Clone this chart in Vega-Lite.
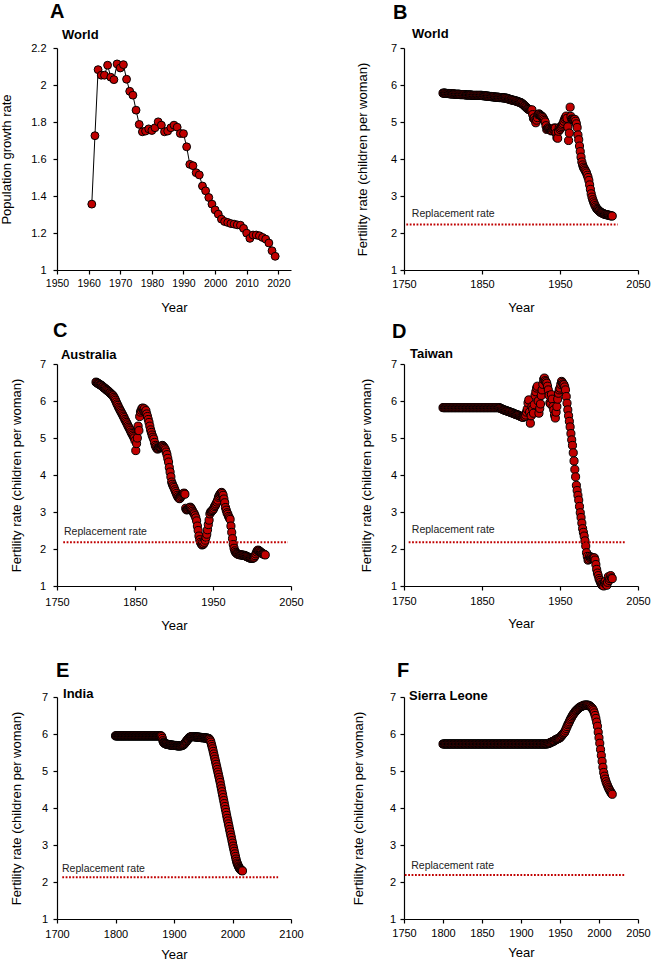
{
"$schema":"https://vega.github.io/schema/vega-lite/v6.json",
"padding":{"left":0,"top":1,"right":0,"bottom":0},
"config":{
"font":"Liberation Sans",
"view":{"stroke":null},
"axis":{"grid":false,"domainColor":"#000","domainWidth":1.2,"tickColor":"#000","tickWidth":1.2,"tickSize":4,"labelFont":"Liberation Sans","labelFontSize":11,"labelColor":"#000","titleFont":"Liberation Sans","titleFontSize":13,"titleFontWeight":"normal","titleColor":"#000","labelOverlap":false,"labelFlush":false},
"axisX":{"labelPadding":4.3},
"axisY":{"labelPadding":7},
"title":{"fontSize":20,"fontWeight":"bold","anchor":"start","frame":"group","color":"#000","font":"Liberation Sans","baseline":"alphabetic"}
},
"datasets":{
"A":[{"year":1961,"rate":1.356},{"year":1962,"rate":1.726},{"year":1963,"rate":2.083},{"year":1964,"rate":2.053},{"year":1965,"rate":2.053},{"year":1966,"rate":2.107},{"year":1967,"rate":2.042},{"year":1968,"rate":2.029},{"year":1969,"rate":2.114},{"year":1970,"rate":2.092},{"year":1971,"rate":2.110},{"year":1972,"rate":2.031},{"year":1973,"rate":1.966},{"year":1974,"rate":1.945},{"year":1975,"rate":1.864},{"year":1976,"rate":1.787},{"year":1977,"rate":1.747},{"year":1978,"rate":1.751},{"year":1979,"rate":1.763},{"year":1980,"rate":1.754},{"year":1981,"rate":1.769},{"year":1982,"rate":1.801},{"year":1983,"rate":1.783},{"year":1984,"rate":1.747},{"year":1985,"rate":1.751},{"year":1986,"rate":1.769},{"year":1987,"rate":1.783},{"year":1988,"rate":1.772},{"year":1989,"rate":1.738},{"year":1990,"rate":1.737},{"year":1991,"rate":1.666},{"year":1992,"rate":1.571},{"year":1993,"rate":1.564},{"year":1994,"rate":1.526},{"year":1995,"rate":1.514},{"year":1996,"rate":1.454},{"year":1997,"rate":1.428},{"year":1998,"rate":1.392},{"year":1999,"rate":1.356},{"year":2000,"rate":1.325},{"year":2001,"rate":1.302},{"year":2002,"rate":1.275},{"year":2003,"rate":1.262},{"year":2004,"rate":1.257},{"year":2005,"rate":1.251},{"year":2006,"rate":1.248},{"year":2007,"rate":1.244},{"year":2008,"rate":1.242},{"year":2009,"rate":1.225},{"year":2010,"rate":1.199},{"year":2011,"rate":1.171},{"year":2012,"rate":1.189},{"year":2013,"rate":1.189},{"year":2014,"rate":1.185},{"year":2015,"rate":1.176},{"year":2016,"rate":1.167},{"year":2017,"rate":1.146},{"year":2018,"rate":1.104},{"year":2019,"rate":1.074}],
"B":[{"year":1800,"rate":5.78},{"year":1801,"rate":5.78},{"year":1802,"rate":5.78},{"year":1803,"rate":5.78},{"year":1804,"rate":5.77},{"year":1805,"rate":5.77},{"year":1806,"rate":5.77},{"year":1807,"rate":5.77},{"year":1808,"rate":5.77},{"year":1809,"rate":5.76},
{"year":1810,"rate":5.76},{"year":1811,"rate":5.76},{"year":1812,"rate":5.76},{"year":1813,"rate":5.76},{"year":1814,"rate":5.76},{"year":1815,"rate":5.75},{"year":1816,"rate":5.75},{"year":1817,"rate":5.75},{"year":1818,"rate":5.75},{"year":1819,"rate":5.75},
{"year":1820,"rate":5.75},{"year":1821,"rate":5.75},{"year":1822,"rate":5.74},{"year":1823,"rate":5.74},{"year":1824,"rate":5.74},{"year":1825,"rate":5.74},{"year":1826,"rate":5.74},{"year":1827,"rate":5.74},{"year":1828,"rate":5.74},{"year":1829,"rate":5.73},
{"year":1830,"rate":5.73},{"year":1831,"rate":5.73},{"year":1832,"rate":5.73},{"year":1833,"rate":5.73},{"year":1834,"rate":5.73},{"year":1835,"rate":5.73},{"year":1836,"rate":5.73},{"year":1837,"rate":5.72},{"year":1838,"rate":5.72},{"year":1839,"rate":5.72},
{"year":1840,"rate":5.72},{"year":1841,"rate":5.72},{"year":1842,"rate":5.72},{"year":1843,"rate":5.72},{"year":1844,"rate":5.72},{"year":1845,"rate":5.72},{"year":1846,"rate":5.72},{"year":1847,"rate":5.72},{"year":1848,"rate":5.72},{"year":1849,"rate":5.72},
{"year":1850,"rate":5.72},{"year":1851,"rate":5.71},{"year":1852,"rate":5.71},{"year":1853,"rate":5.71},{"year":1854,"rate":5.71},{"year":1855,"rate":5.70},{"year":1856,"rate":5.70},{"year":1857,"rate":5.70},{"year":1858,"rate":5.70},{"year":1859,"rate":5.69},
{"year":1860,"rate":5.69},{"year":1861,"rate":5.69},{"year":1862,"rate":5.69},{"year":1863,"rate":5.68},{"year":1864,"rate":5.68},{"year":1865,"rate":5.68},{"year":1866,"rate":5.68},{"year":1867,"rate":5.67},{"year":1868,"rate":5.67},{"year":1869,"rate":5.67},
{"year":1870,"rate":5.67},{"year":1871,"rate":5.67},{"year":1872,"rate":5.66},{"year":1873,"rate":5.66},{"year":1874,"rate":5.66},{"year":1875,"rate":5.66},{"year":1876,"rate":5.66},{"year":1877,"rate":5.65},{"year":1878,"rate":5.65},{"year":1879,"rate":5.65},
{"year":1880,"rate":5.65},{"year":1881,"rate":5.64},{"year":1882,"rate":5.64},{"year":1883,"rate":5.63},{"year":1884,"rate":5.62},{"year":1885,"rate":5.62},{"year":1886,"rate":5.61},{"year":1887,"rate":5.60},{"year":1888,"rate":5.60},{"year":1889,"rate":5.59},
{"year":1890,"rate":5.59},{"year":1891,"rate":5.58},{"year":1892,"rate":5.58},{"year":1893,"rate":5.57},{"year":1894,"rate":5.56},{"year":1895,"rate":5.56},{"year":1896,"rate":5.55},{"year":1897,"rate":5.54},{"year":1898,"rate":5.53},{"year":1899,"rate":5.53},
{"year":1900,"rate":5.52},{"year":1901,"rate":5.50},{"year":1902,"rate":5.49},{"year":1903,"rate":5.47},{"year":1904,"rate":5.45},{"year":1905,"rate":5.43},{"year":1906,"rate":5.41},{"year":1907,"rate":5.39},{"year":1908,"rate":5.37},{"year":1909,"rate":5.35},
{"year":1910,"rate":5.34},{"year":1911,"rate":5.33},{"year":1912,"rate":5.32},{"year":1913,"rate":5.30},{"year":1914,"rate":5.33},{"year":1915,"rate":5.20},{"year":1916,"rate":5.10},{"year":1917,"rate":5.11},{"year":1918,"rate":5.05},{"year":1919,"rate":4.98},
{"year":1920,"rate":5.05},{"year":1921,"rate":5.12},{"year":1922,"rate":5.20},{"year":1923,"rate":5.22},{"year":1924,"rate":5.20},{"year":1925,"rate":5.18},{"year":1926,"rate":5.16},{"year":1927,"rate":5.15},{"year":1928,"rate":5.12},{"year":1929,"rate":5.08},
{"year":1930,"rate":5.04},{"year":1931,"rate":5.00},{"year":1932,"rate":4.90},{"year":1933,"rate":4.80},{"year":1934,"rate":4.82},{"year":1935,"rate":4.84},{"year":1936,"rate":4.82},{"year":1937,"rate":4.80},{"year":1938,"rate":4.78},{"year":1939,"rate":4.76},
{"year":1940,"rate":4.77},{"year":1941,"rate":4.80},{"year":1942,"rate":4.82},{"year":1943,"rate":4.84},{"year":1944,"rate":4.83},{"year":1945,"rate":4.70},{"year":1946,"rate":4.58},{"year":1947,"rate":4.56},{"year":1948,"rate":4.75},{"year":1949,"rate":4.85},
{"year":1950,"rate":4.80},{"year":1951,"rate":4.84},{"year":1952,"rate":4.88},{"year":1953,"rate":4.92},{"year":1954,"rate":4.96},{"year":1955,"rate":5.02},{"year":1956,"rate":5.08},{"year":1957,"rate":5.12},{"year":1958,"rate":5.16},{"year":1959,"rate":5.10},
{"year":1960,"rate":4.87},{"year":1961,"rate":4.50},{"year":1962,"rate":4.70},{"year":1963,"rate":5.40},{"year":1964,"rate":5.15},{"year":1965,"rate":5.08},{"year":1966,"rate":5.07},{"year":1967,"rate":5.07},{"year":1968,"rate":5.06},{"year":1969,"rate":5.07},
{"year":1970,"rate":5.02},{"year":1971,"rate":4.95},{"year":1972,"rate":4.85},{"year":1973,"rate":4.65},{"year":1974,"rate":4.52},{"year":1975,"rate":4.35},{"year":1976,"rate":4.20},{"year":1977,"rate":4.05},{"year":1978,"rate":3.92},{"year":1979,"rate":3.84},
{"year":1980,"rate":3.78},{"year":1981,"rate":3.74},{"year":1982,"rate":3.70},{"year":1983,"rate":3.66},{"year":1984,"rate":3.62},{"year":1985,"rate":3.56},{"year":1986,"rate":3.50},{"year":1987,"rate":3.42},{"year":1988,"rate":3.30},{"year":1989,"rate":3.18},
{"year":1990,"rate":3.06},{"year":1991,"rate":2.97},{"year":1992,"rate":2.90},{"year":1993,"rate":2.84},{"year":1994,"rate":2.79},{"year":1995,"rate":2.74},{"year":1996,"rate":2.70},{"year":1997,"rate":2.66},{"year":1998,"rate":2.64},{"year":1999,"rate":2.62},
{"year":2000,"rate":2.60},{"year":2001,"rate":2.58},{"year":2002,"rate":2.56},{"year":2003,"rate":2.55},{"year":2004,"rate":2.54},{"year":2005,"rate":2.53},{"year":2006,"rate":2.52},{"year":2007,"rate":2.51},{"year":2008,"rate":2.50},{"year":2009,"rate":2.50},
{"year":2010,"rate":2.49},{"year":2011,"rate":2.49},{"year":2012,"rate":2.48},{"year":2013,"rate":2.48},{"year":2014,"rate":2.47},{"year":2015,"rate":2.47},{"year":2016,"rate":2.46},{"year":2017,"rate":2.46}],
"C":[{"year":1800,"rate":6.51},{"year":1801,"rate":6.50},{"year":1802,"rate":6.48},{"year":1803,"rate":6.47},{"year":1804,"rate":6.46},{"year":1805,"rate":6.44},{"year":1806,"rate":6.43},{"year":1807,"rate":6.42},{"year":1808,"rate":6.40},{"year":1809,"rate":6.38},
{"year":1810,"rate":6.36},{"year":1811,"rate":6.35},{"year":1812,"rate":6.33},{"year":1813,"rate":6.31},{"year":1814,"rate":6.29},{"year":1815,"rate":6.28},{"year":1816,"rate":6.26},{"year":1817,"rate":6.24},{"year":1818,"rate":6.22},{"year":1819,"rate":6.20},
{"year":1820,"rate":6.18},{"year":1821,"rate":6.16},{"year":1822,"rate":6.14},{"year":1823,"rate":6.10},{"year":1824,"rate":6.06},{"year":1825,"rate":6.02},{"year":1826,"rate":5.97},{"year":1827,"rate":5.92},{"year":1828,"rate":5.88},{"year":1829,"rate":5.83},
{"year":1830,"rate":5.79},{"year":1831,"rate":5.75},{"year":1832,"rate":5.71},{"year":1833,"rate":5.67},{"year":1834,"rate":5.63},{"year":1835,"rate":5.59},{"year":1836,"rate":5.55},{"year":1837,"rate":5.50},{"year":1838,"rate":5.46},{"year":1839,"rate":5.42},
{"year":1840,"rate":5.38},{"year":1841,"rate":5.33},{"year":1842,"rate":5.29},{"year":1843,"rate":5.25},{"year":1844,"rate":5.21},{"year":1845,"rate":5.16},{"year":1846,"rate":5.12},{"year":1847,"rate":5.08},{"year":1848,"rate":5.04},{"year":1849,"rate":5.00},
{"year":1850,"rate":4.93},{"year":1851,"rate":4.66},{"year":1852,"rate":4.85},{"year":1853,"rate":5.00},{"year":1854,"rate":5.32},{"year":1855,"rate":5.20},{"year":1856,"rate":5.58},{"year":1857,"rate":5.70},{"year":1858,"rate":5.75},{"year":1859,"rate":5.80},
{"year":1860,"rate":5.81},{"year":1861,"rate":5.75},{"year":1862,"rate":5.79},{"year":1863,"rate":5.70},{"year":1864,"rate":5.74},{"year":1865,"rate":5.65},{"year":1866,"rate":5.58},{"year":1867,"rate":5.50},{"year":1868,"rate":5.42},{"year":1869,"rate":5.32},
{"year":1870,"rate":5.22},{"year":1871,"rate":5.15},{"year":1872,"rate":5.08},{"year":1873,"rate":5.02},{"year":1874,"rate":4.97},{"year":1875,"rate":4.88},{"year":1876,"rate":4.80},{"year":1877,"rate":4.76},{"year":1878,"rate":4.72},{"year":1879,"rate":4.70},
{"year":1880,"rate":4.72},{"year":1881,"rate":4.74},{"year":1882,"rate":4.75},{"year":1883,"rate":4.76},{"year":1884,"rate":4.78},{"year":1885,"rate":4.80},{"year":1886,"rate":4.78},{"year":1887,"rate":4.75},{"year":1888,"rate":4.72},{"year":1889,"rate":4.68},
{"year":1890,"rate":4.62},{"year":1891,"rate":4.55},{"year":1892,"rate":4.45},{"year":1893,"rate":4.35},{"year":1894,"rate":4.20},{"year":1895,"rate":4.08},{"year":1896,"rate":3.95},{"year":1897,"rate":3.81},{"year":1898,"rate":3.75},{"year":1899,"rate":3.70},
{"year":1900,"rate":3.66},{"year":1901,"rate":3.60},{"year":1902,"rate":3.55},{"year":1903,"rate":3.50},{"year":1904,"rate":3.45},{"year":1905,"rate":3.41},{"year":1906,"rate":3.38},{"year":1907,"rate":3.36},{"year":1908,"rate":3.38},{"year":1909,"rate":3.42},
{"year":1910,"rate":3.45},{"year":1911,"rate":3.48},{"year":1912,"rate":3.50},{"year":1913,"rate":3.51},{"year":1914,"rate":3.48},{"year":1915,"rate":3.10},{"year":1916,"rate":3.06},{"year":1917,"rate":3.06},{"year":1918,"rate":3.08},{"year":1919,"rate":3.10},
{"year":1920,"rate":3.12},{"year":1921,"rate":3.13},{"year":1922,"rate":3.10},{"year":1923,"rate":3.06},{"year":1924,"rate":3.02},{"year":1925,"rate":2.98},{"year":1926,"rate":2.95},{"year":1927,"rate":2.90},{"year":1928,"rate":2.84},{"year":1929,"rate":2.76},
{"year":1930,"rate":2.62},{"year":1931,"rate":2.50},{"year":1932,"rate":2.35},{"year":1933,"rate":2.25},{"year":1934,"rate":2.18},{"year":1935,"rate":2.14},{"year":1936,"rate":2.11},{"year":1937,"rate":2.12},{"year":1938,"rate":2.14},{"year":1939,"rate":2.18},
{"year":1940,"rate":2.24},{"year":1941,"rate":2.32},{"year":1942,"rate":2.40},{"year":1943,"rate":2.52},{"year":1944,"rate":2.66},{"year":1945,"rate":2.78},{"year":1946,"rate":2.95},{"year":1947,"rate":3.00},{"year":1948,"rate":3.02},{"year":1949,"rate":3.04},
{"year":1950,"rate":3.06},{"year":1951,"rate":3.10},{"year":1952,"rate":3.15},{"year":1953,"rate":3.18},{"year":1954,"rate":3.22},{"year":1955,"rate":3.27},{"year":1956,"rate":3.32},{"year":1957,"rate":3.40},{"year":1958,"rate":3.44},{"year":1959,"rate":3.48},
{"year":1960,"rate":3.51},{"year":1961,"rate":3.53},{"year":1962,"rate":3.50},{"year":1963,"rate":3.45},{"year":1964,"rate":3.35},{"year":1965,"rate":3.25},{"year":1966,"rate":3.12},{"year":1967,"rate":3.05},{"year":1968,"rate":2.98},{"year":1969,"rate":2.94},
{"year":1970,"rate":2.88},{"year":1971,"rate":2.84},{"year":1972,"rate":2.80},{"year":1973,"rate":2.62},{"year":1974,"rate":2.45},{"year":1975,"rate":2.28},{"year":1976,"rate":2.12},{"year":1977,"rate":2.02},{"year":1978,"rate":1.95},{"year":1979,"rate":1.91},
{"year":1980,"rate":1.89},{"year":1981,"rate":1.87},{"year":1982,"rate":1.86},{"year":1983,"rate":1.85},{"year":1984,"rate":1.85},{"year":1985,"rate":1.84},{"year":1986,"rate":1.84},{"year":1987,"rate":1.84},{"year":1988,"rate":1.83},{"year":1989,"rate":1.83},
{"year":1990,"rate":1.83},{"year":1991,"rate":1.82},{"year":1992,"rate":1.81},{"year":1993,"rate":1.80},{"year":1994,"rate":1.79},{"year":1995,"rate":1.78},{"year":1996,"rate":1.77},{"year":1997,"rate":1.76},{"year":1998,"rate":1.75},{"year":1999,"rate":1.75},
{"year":2000,"rate":1.75},{"year":2001,"rate":1.75},{"year":2002,"rate":1.76},{"year":2003,"rate":1.78},{"year":2004,"rate":1.82},{"year":2005,"rate":1.87},{"year":2006,"rate":1.92},{"year":2007,"rate":1.96},{"year":2008,"rate":1.97},{"year":2009,"rate":1.95},
{"year":2010,"rate":1.93},{"year":2011,"rate":1.92},{"year":2012,"rate":1.90},{"year":2013,"rate":1.88},{"year":2014,"rate":1.87},{"year":2015,"rate":1.86},{"year":2016,"rate":1.85},{"year":2017,"rate":1.84}],
"D":[{"year":1800,"rate":5.82},{"year":1801,"rate":5.82},{"year":1802,"rate":5.82},{"year":1803,"rate":5.82},{"year":1804,"rate":5.82},{"year":1805,"rate":5.82},{"year":1806,"rate":5.82},{"year":1807,"rate":5.82},{"year":1808,"rate":5.82},{"year":1809,"rate":5.82},
{"year":1810,"rate":5.82},{"year":1811,"rate":5.82},{"year":1812,"rate":5.82},{"year":1813,"rate":5.82},{"year":1814,"rate":5.82},{"year":1815,"rate":5.82},{"year":1816,"rate":5.82},{"year":1817,"rate":5.82},{"year":1818,"rate":5.82},{"year":1819,"rate":5.82},
{"year":1820,"rate":5.82},{"year":1821,"rate":5.82},{"year":1822,"rate":5.82},{"year":1823,"rate":5.82},{"year":1824,"rate":5.82},{"year":1825,"rate":5.82},{"year":1826,"rate":5.82},{"year":1827,"rate":5.82},{"year":1828,"rate":5.82},{"year":1829,"rate":5.82},
{"year":1830,"rate":5.82},{"year":1831,"rate":5.82},{"year":1832,"rate":5.82},{"year":1833,"rate":5.82},{"year":1834,"rate":5.82},{"year":1835,"rate":5.82},{"year":1836,"rate":5.82},{"year":1837,"rate":5.82},{"year":1838,"rate":5.82},{"year":1839,"rate":5.82},
{"year":1840,"rate":5.82},{"year":1841,"rate":5.82},{"year":1842,"rate":5.82},{"year":1843,"rate":5.82},{"year":1844,"rate":5.82},{"year":1845,"rate":5.82},{"year":1846,"rate":5.82},{"year":1847,"rate":5.82},{"year":1848,"rate":5.82},{"year":1849,"rate":5.82},
{"year":1850,"rate":5.82},{"year":1851,"rate":5.82},{"year":1852,"rate":5.82},{"year":1853,"rate":5.82},{"year":1854,"rate":5.82},{"year":1855,"rate":5.82},{"year":1856,"rate":5.82},{"year":1857,"rate":5.82},{"year":1858,"rate":5.82},{"year":1859,"rate":5.82},
{"year":1860,"rate":5.82},{"year":1861,"rate":5.82},{"year":1862,"rate":5.82},{"year":1863,"rate":5.82},{"year":1864,"rate":5.82},{"year":1865,"rate":5.82},{"year":1866,"rate":5.82},{"year":1867,"rate":5.82},{"year":1868,"rate":5.82},{"year":1869,"rate":5.82},
{"year":1870,"rate":5.82},{"year":1871,"rate":5.82},{"year":1872,"rate":5.82},{"year":1873,"rate":5.81},{"year":1874,"rate":5.80},{"year":1875,"rate":5.79},{"year":1876,"rate":5.78},{"year":1877,"rate":5.77},{"year":1878,"rate":5.76},{"year":1879,"rate":5.75},
{"year":1880,"rate":5.75},{"year":1881,"rate":5.74},{"year":1882,"rate":5.73},{"year":1883,"rate":5.72},{"year":1884,"rate":5.72},{"year":1885,"rate":5.71},{"year":1886,"rate":5.70},{"year":1887,"rate":5.69},{"year":1888,"rate":5.68},{"year":1889,"rate":5.68},
{"year":1890,"rate":5.67},{"year":1891,"rate":5.66},{"year":1892,"rate":5.65},{"year":1893,"rate":5.64},{"year":1894,"rate":5.63},{"year":1895,"rate":5.63},{"year":1896,"rate":5.62},{"year":1897,"rate":5.61},{"year":1898,"rate":5.60},{"year":1899,"rate":5.59},
{"year":1900,"rate":5.58},{"year":1901,"rate":5.57},{"year":1902,"rate":5.56},{"year":1903,"rate":5.56},{"year":1904,"rate":5.60},{"year":1905,"rate":5.58},{"year":1906,"rate":5.62},{"year":1907,"rate":5.70},{"year":1908,"rate":5.78},{"year":1909,"rate":5.95},
{"year":1910,"rate":6.03},{"year":1911,"rate":5.70},{"year":1912,"rate":5.40},{"year":1913,"rate":5.60},{"year":1914,"rate":5.85},{"year":1915,"rate":5.78},{"year":1916,"rate":5.67},{"year":1917,"rate":5.90},{"year":1918,"rate":6.15},{"year":1919,"rate":6.25},
{"year":1920,"rate":6.35},{"year":1921,"rate":6.40},{"year":1922,"rate":6.00},{"year":1923,"rate":5.67},{"year":1924,"rate":5.80},{"year":1925,"rate":5.92},{"year":1926,"rate":6.15},{"year":1927,"rate":6.30},{"year":1928,"rate":6.45},{"year":1929,"rate":6.58},
{"year":1930,"rate":6.62},{"year":1931,"rate":6.55},{"year":1932,"rate":6.52},{"year":1933,"rate":6.48},{"year":1934,"rate":6.40},{"year":1935,"rate":6.30},{"year":1936,"rate":6.15},{"year":1937,"rate":5.95},{"year":1938,"rate":5.92},{"year":1939,"rate":6.17},
{"year":1940,"rate":6.05},{"year":1941,"rate":5.85},{"year":1942,"rate":5.76},{"year":1943,"rate":5.62},{"year":1944,"rate":5.54},{"year":1945,"rate":5.70},{"year":1946,"rate":5.85},{"year":1947,"rate":6.05},{"year":1948,"rate":6.21},{"year":1949,"rate":6.30},
{"year":1950,"rate":6.35},{"year":1951,"rate":6.45},{"year":1952,"rate":6.53},{"year":1953,"rate":6.50},{"year":1954,"rate":6.46},{"year":1955,"rate":6.44},{"year":1956,"rate":6.38},{"year":1957,"rate":6.30},{"year":1958,"rate":6.12},{"year":1959,"rate":5.94},
{"year":1960,"rate":5.76},{"year":1961,"rate":5.60},{"year":1962,"rate":5.45},{"year":1963,"rate":5.30},{"year":1964,"rate":5.12},{"year":1965,"rate":4.95},{"year":1966,"rate":4.80},{"year":1967,"rate":4.60},{"year":1968,"rate":4.38},{"year":1969,"rate":4.15},
{"year":1970,"rate":3.95},{"year":1971,"rate":3.72},{"year":1972,"rate":3.58},{"year":1973,"rate":3.45},{"year":1974,"rate":3.32},{"year":1975,"rate":3.15},{"year":1976,"rate":2.98},{"year":1977,"rate":2.85},{"year":1978,"rate":2.70},{"year":1979,"rate":2.55},
{"year":1980,"rate":2.45},{"year":1981,"rate":2.35},{"year":1982,"rate":2.22},{"year":1983,"rate":2.08},{"year":1984,"rate":1.90},{"year":1985,"rate":1.80},{"year":1986,"rate":1.70},{"year":1987,"rate":1.72},{"year":1988,"rate":1.80},{"year":1989,"rate":1.75},
{"year":1990,"rate":1.78},{"year":1991,"rate":1.74},{"year":1992,"rate":1.76},{"year":1993,"rate":1.76},{"year":1994,"rate":1.76},{"year":1995,"rate":1.70},{"year":1996,"rate":1.58},{"year":1997,"rate":1.45},{"year":1998,"rate":1.35},{"year":1999,"rate":1.28},
{"year":2000,"rate":1.20},{"year":2001,"rate":1.15},{"year":2002,"rate":1.10},{"year":2003,"rate":1.05},{"year":2004,"rate":1.02},{"year":2005,"rate":1.05},{"year":2006,"rate":1.00},{"year":2007,"rate":1.08},{"year":2008,"rate":1.12},{"year":2009,"rate":1.05},
{"year":2010,"rate":1.02},{"year":2011,"rate":1.10},{"year":2012,"rate":1.25},{"year":2013,"rate":1.15},{"year":2014,"rate":1.20},{"year":2015,"rate":1.28},{"year":2016,"rate":1.22},{"year":2017,"rate":1.20}],
"E":[{"year":1800,"rate":5.95},{"year":1801,"rate":5.95},{"year":1802,"rate":5.95},{"year":1803,"rate":5.95},{"year":1804,"rate":5.95},{"year":1805,"rate":5.95},{"year":1806,"rate":5.95},{"year":1807,"rate":5.95},{"year":1808,"rate":5.95},{"year":1809,"rate":5.95},
{"year":1810,"rate":5.95},{"year":1811,"rate":5.95},{"year":1812,"rate":5.95},{"year":1813,"rate":5.95},{"year":1814,"rate":5.95},{"year":1815,"rate":5.95},{"year":1816,"rate":5.95},{"year":1817,"rate":5.95},{"year":1818,"rate":5.95},{"year":1819,"rate":5.95},
{"year":1820,"rate":5.95},{"year":1821,"rate":5.95},{"year":1822,"rate":5.95},{"year":1823,"rate":5.95},{"year":1824,"rate":5.95},{"year":1825,"rate":5.95},{"year":1826,"rate":5.95},{"year":1827,"rate":5.95},{"year":1828,"rate":5.95},{"year":1829,"rate":5.95},
{"year":1830,"rate":5.95},{"year":1831,"rate":5.95},{"year":1832,"rate":5.95},{"year":1833,"rate":5.95},{"year":1834,"rate":5.95},{"year":1835,"rate":5.95},{"year":1836,"rate":5.95},{"year":1837,"rate":5.95},{"year":1838,"rate":5.95},{"year":1839,"rate":5.95},
{"year":1840,"rate":5.95},{"year":1841,"rate":5.95},{"year":1842,"rate":5.95},{"year":1843,"rate":5.95},{"year":1844,"rate":5.95},{"year":1845,"rate":5.95},{"year":1846,"rate":5.95},{"year":1847,"rate":5.95},{"year":1848,"rate":5.95},{"year":1849,"rate":5.95},
{"year":1850,"rate":5.95},{"year":1851,"rate":5.95},{"year":1852,"rate":5.95},{"year":1853,"rate":5.95},{"year":1854,"rate":5.95},{"year":1855,"rate":5.95},{"year":1856,"rate":5.95},{"year":1857,"rate":5.95},{"year":1858,"rate":5.95},{"year":1859,"rate":5.95},
{"year":1860,"rate":5.95},{"year":1861,"rate":5.95},{"year":1862,"rate":5.95},{"year":1863,"rate":5.95},{"year":1864,"rate":5.95},{"year":1865,"rate":5.95},{"year":1866,"rate":5.95},{"year":1867,"rate":5.95},{"year":1868,"rate":5.95},{"year":1869,"rate":5.95},
{"year":1870,"rate":5.95},{"year":1871,"rate":5.95},{"year":1872,"rate":5.95},{"year":1873,"rate":5.95},{"year":1874,"rate":5.95},{"year":1875,"rate":5.95},{"year":1876,"rate":5.95},{"year":1877,"rate":5.95},{"year":1878,"rate":5.95},{"year":1879,"rate":5.93},
{"year":1880,"rate":5.88},{"year":1881,"rate":5.82},{"year":1882,"rate":5.78},{"year":1883,"rate":5.76},{"year":1884,"rate":5.75},{"year":1885,"rate":5.74},{"year":1886,"rate":5.73},{"year":1887,"rate":5.73},{"year":1888,"rate":5.72},{"year":1889,"rate":5.72},
{"year":1890,"rate":5.72},{"year":1891,"rate":5.71},{"year":1892,"rate":5.71},{"year":1893,"rate":5.71},{"year":1894,"rate":5.70},{"year":1895,"rate":5.70},{"year":1896,"rate":5.70},{"year":1897,"rate":5.70},{"year":1898,"rate":5.70},{"year":1899,"rate":5.69},
{"year":1900,"rate":5.69},{"year":1901,"rate":5.69},{"year":1902,"rate":5.69},{"year":1903,"rate":5.69},{"year":1904,"rate":5.69},{"year":1905,"rate":5.68},{"year":1906,"rate":5.68},{"year":1907,"rate":5.68},{"year":1908,"rate":5.68},{"year":1909,"rate":5.68},
{"year":1910,"rate":5.68},{"year":1911,"rate":5.68},{"year":1912,"rate":5.68},{"year":1913,"rate":5.69},{"year":1914,"rate":5.69},{"year":1915,"rate":5.70},{"year":1916,"rate":5.71},{"year":1917,"rate":5.72},{"year":1918,"rate":5.74},{"year":1919,"rate":5.76},
{"year":1920,"rate":5.78},{"year":1921,"rate":5.80},{"year":1922,"rate":5.82},{"year":1923,"rate":5.84},{"year":1924,"rate":5.86},{"year":1925,"rate":5.88},{"year":1926,"rate":5.90},{"year":1927,"rate":5.91},{"year":1928,"rate":5.92},{"year":1929,"rate":5.92},
{"year":1930,"rate":5.93},{"year":1931,"rate":5.93},{"year":1932,"rate":5.93},{"year":1933,"rate":5.93},{"year":1934,"rate":5.93},{"year":1935,"rate":5.93},{"year":1936,"rate":5.92},{"year":1937,"rate":5.92},{"year":1938,"rate":5.92},{"year":1939,"rate":5.92},
{"year":1940,"rate":5.92},{"year":1941,"rate":5.92},{"year":1942,"rate":5.91},{"year":1943,"rate":5.91},{"year":1944,"rate":5.91},{"year":1945,"rate":5.91},{"year":1946,"rate":5.91},{"year":1947,"rate":5.90},{"year":1948,"rate":5.90},{"year":1949,"rate":5.90},
{"year":1950,"rate":5.90},{"year":1951,"rate":5.90},{"year":1952,"rate":5.90},{"year":1953,"rate":5.89},{"year":1954,"rate":5.89},{"year":1955,"rate":5.89},{"year":1956,"rate":5.89},{"year":1957,"rate":5.89},{"year":1958,"rate":5.88},{"year":1959,"rate":5.88},
{"year":1960,"rate":5.87},{"year":1961,"rate":5.85},{"year":1962,"rate":5.82},{"year":1963,"rate":5.78},{"year":1964,"rate":5.72},{"year":1965,"rate":5.66},{"year":1966,"rate":5.60},{"year":1967,"rate":5.53},{"year":1968,"rate":5.46},{"year":1969,"rate":5.39},
{"year":1970,"rate":5.32},{"year":1971,"rate":5.25},{"year":1972,"rate":5.18},{"year":1973,"rate":5.11},{"year":1974,"rate":5.04},{"year":1975,"rate":4.97},{"year":1976,"rate":4.90},{"year":1977,"rate":4.83},{"year":1978,"rate":4.76},{"year":1979,"rate":4.69},
{"year":1980,"rate":4.60},{"year":1981,"rate":4.52},{"year":1982,"rate":4.44},{"year":1983,"rate":4.36},{"year":1984,"rate":4.28},{"year":1985,"rate":4.20},{"year":1986,"rate":4.12},{"year":1987,"rate":4.04},{"year":1988,"rate":3.96},{"year":1989,"rate":3.88},
{"year":1990,"rate":3.80},{"year":1991,"rate":3.72},{"year":1992,"rate":3.65},{"year":1993,"rate":3.57},{"year":1994,"rate":3.50},{"year":1995,"rate":3.42},{"year":1996,"rate":3.35},{"year":1997,"rate":3.27},{"year":1998,"rate":3.20},{"year":1999,"rate":3.12},
{"year":2000,"rate":3.05},{"year":2001,"rate":2.97},{"year":2002,"rate":2.90},{"year":2003,"rate":2.83},{"year":2004,"rate":2.76},{"year":2005,"rate":2.69},{"year":2006,"rate":2.62},{"year":2007,"rate":2.56},{"year":2008,"rate":2.51},{"year":2009,"rate":2.47},
{"year":2010,"rate":2.43},{"year":2011,"rate":2.40},{"year":2012,"rate":2.37},{"year":2013,"rate":2.35},{"year":2014,"rate":2.33},{"year":2015,"rate":2.32},{"year":2016,"rate":2.31},{"year":2017,"rate":2.30}],
"F":[{"year":1800,"rate":5.73},{"year":1801,"rate":5.73},{"year":1802,"rate":5.73},{"year":1803,"rate":5.73},{"year":1804,"rate":5.73},{"year":1805,"rate":5.73},{"year":1806,"rate":5.73},{"year":1807,"rate":5.73},{"year":1808,"rate":5.73},{"year":1809,"rate":5.73},
{"year":1810,"rate":5.73},{"year":1811,"rate":5.73},{"year":1812,"rate":5.73},{"year":1813,"rate":5.73},{"year":1814,"rate":5.73},{"year":1815,"rate":5.73},{"year":1816,"rate":5.73},{"year":1817,"rate":5.73},{"year":1818,"rate":5.73},{"year":1819,"rate":5.73},
{"year":1820,"rate":5.73},{"year":1821,"rate":5.73},{"year":1822,"rate":5.73},{"year":1823,"rate":5.73},{"year":1824,"rate":5.73},{"year":1825,"rate":5.73},{"year":1826,"rate":5.73},{"year":1827,"rate":5.73},{"year":1828,"rate":5.73},{"year":1829,"rate":5.73},
{"year":1830,"rate":5.73},{"year":1831,"rate":5.73},{"year":1832,"rate":5.73},{"year":1833,"rate":5.73},{"year":1834,"rate":5.73},{"year":1835,"rate":5.73},{"year":1836,"rate":5.73},{"year":1837,"rate":5.73},{"year":1838,"rate":5.73},{"year":1839,"rate":5.73},
{"year":1840,"rate":5.73},{"year":1841,"rate":5.73},{"year":1842,"rate":5.73},{"year":1843,"rate":5.73},{"year":1844,"rate":5.73},{"year":1845,"rate":5.73},{"year":1846,"rate":5.73},{"year":1847,"rate":5.73},{"year":1848,"rate":5.73},{"year":1849,"rate":5.73},
{"year":1850,"rate":5.73},{"year":1851,"rate":5.73},{"year":1852,"rate":5.73},{"year":1853,"rate":5.73},{"year":1854,"rate":5.73},{"year":1855,"rate":5.73},{"year":1856,"rate":5.73},{"year":1857,"rate":5.73},{"year":1858,"rate":5.73},{"year":1859,"rate":5.73},
{"year":1860,"rate":5.73},{"year":1861,"rate":5.73},{"year":1862,"rate":5.73},{"year":1863,"rate":5.73},{"year":1864,"rate":5.73},{"year":1865,"rate":5.73},{"year":1866,"rate":5.73},{"year":1867,"rate":5.73},{"year":1868,"rate":5.73},{"year":1869,"rate":5.73},
{"year":1870,"rate":5.73},{"year":1871,"rate":5.73},{"year":1872,"rate":5.73},{"year":1873,"rate":5.73},{"year":1874,"rate":5.73},{"year":1875,"rate":5.73},{"year":1876,"rate":5.73},{"year":1877,"rate":5.73},{"year":1878,"rate":5.73},{"year":1879,"rate":5.73},
{"year":1880,"rate":5.73},{"year":1881,"rate":5.73},{"year":1882,"rate":5.73},{"year":1883,"rate":5.73},{"year":1884,"rate":5.73},{"year":1885,"rate":5.73},{"year":1886,"rate":5.73},{"year":1887,"rate":5.73},{"year":1888,"rate":5.73},{"year":1889,"rate":5.73},
{"year":1890,"rate":5.73},{"year":1891,"rate":5.73},{"year":1892,"rate":5.73},{"year":1893,"rate":5.73},{"year":1894,"rate":5.73},{"year":1895,"rate":5.73},{"year":1896,"rate":5.73},{"year":1897,"rate":5.73},{"year":1898,"rate":5.73},{"year":1899,"rate":5.73},
{"year":1900,"rate":5.73},{"year":1901,"rate":5.73},{"year":1902,"rate":5.73},{"year":1903,"rate":5.73},{"year":1904,"rate":5.73},{"year":1905,"rate":5.73},{"year":1906,"rate":5.73},{"year":1907,"rate":5.73},{"year":1908,"rate":5.73},{"year":1909,"rate":5.73},
{"year":1910,"rate":5.73},{"year":1911,"rate":5.73},{"year":1912,"rate":5.73},{"year":1913,"rate":5.73},{"year":1914,"rate":5.73},{"year":1915,"rate":5.73},{"year":1916,"rate":5.73},{"year":1917,"rate":5.73},{"year":1918,"rate":5.73},{"year":1919,"rate":5.73},
{"year":1920,"rate":5.73},{"year":1921,"rate":5.73},{"year":1922,"rate":5.73},{"year":1923,"rate":5.73},{"year":1924,"rate":5.73},{"year":1925,"rate":5.73},{"year":1926,"rate":5.73},{"year":1927,"rate":5.73},{"year":1928,"rate":5.73},{"year":1929,"rate":5.73},
{"year":1930,"rate":5.73},{"year":1931,"rate":5.73},{"year":1932,"rate":5.73},{"year":1933,"rate":5.73},{"year":1934,"rate":5.74},{"year":1935,"rate":5.74},{"year":1936,"rate":5.75},{"year":1937,"rate":5.76},{"year":1938,"rate":5.77},{"year":1939,"rate":5.78},
{"year":1940,"rate":5.79},{"year":1941,"rate":5.80},{"year":1942,"rate":5.81},{"year":1943,"rate":5.82},{"year":1944,"rate":5.84},{"year":1945,"rate":5.85},{"year":1946,"rate":5.86},{"year":1947,"rate":5.87},{"year":1948,"rate":5.88},{"year":1949,"rate":5.89},
{"year":1950,"rate":5.90},{"year":1951,"rate":5.93},{"year":1952,"rate":5.95},{"year":1953,"rate":5.98},{"year":1954,"rate":6.00},{"year":1955,"rate":6.03},{"year":1956,"rate":6.05},{"year":1957,"rate":6.10},{"year":1958,"rate":6.15},{"year":1959,"rate":6.20},
{"year":1960,"rate":6.25},{"year":1961,"rate":6.29},{"year":1962,"rate":6.33},{"year":1963,"rate":6.38},{"year":1964,"rate":6.42},{"year":1965,"rate":6.46},{"year":1966,"rate":6.50},{"year":1967,"rate":6.53},{"year":1968,"rate":6.56},{"year":1969,"rate":6.59},
{"year":1970,"rate":6.62},{"year":1971,"rate":6.64},{"year":1972,"rate":6.66},{"year":1973,"rate":6.68},{"year":1974,"rate":6.70},{"year":1975,"rate":6.72},{"year":1976,"rate":6.73},{"year":1977,"rate":6.74},{"year":1978,"rate":6.75},{"year":1979,"rate":6.76},
{"year":1980,"rate":6.77},{"year":1981,"rate":6.78},{"year":1982,"rate":6.78},{"year":1983,"rate":6.78},{"year":1984,"rate":6.78},{"year":1985,"rate":6.78},{"year":1986,"rate":6.78},{"year":1987,"rate":6.77},{"year":1988,"rate":6.76},{"year":1989,"rate":6.74},
{"year":1990,"rate":6.72},{"year":1991,"rate":6.70},{"year":1992,"rate":6.67},{"year":1993,"rate":6.63},{"year":1994,"rate":6.57},{"year":1995,"rate":6.50},{"year":1996,"rate":6.42},{"year":1997,"rate":6.32},{"year":1998,"rate":6.21},{"year":1999,"rate":6.05},
{"year":2000,"rate":5.90},{"year":2001,"rate":5.75},{"year":2002,"rate":5.58},{"year":2003,"rate":5.42},{"year":2004,"rate":5.26},{"year":2005,"rate":5.10},{"year":2006,"rate":4.96},{"year":2007,"rate":4.86},{"year":2008,"rate":4.78},{"year":2009,"rate":4.71},
{"year":2010,"rate":4.65},{"year":2011,"rate":4.60},{"year":2012,"rate":4.55},{"year":2013,"rate":4.51},{"year":2014,"rate":4.47},{"year":2015,"rate":4.43},{"year":2016,"rate":4.40},{"year":2017,"rate":4.37}]
},
"columns":2,
"spacing":{"row":6,"column":48},
"align":"each",
"bounds":"full",
"concat":[
{"width":234,"height":222,"title":{"text":"A","dx":-7,"offset":7},
"layer":[
{"data":{"name":"A"},"mark":{"type":"line","color":"#000","strokeWidth":1},
"encoding":{"x":{"field":"year","type":"quantitative","scale":{"domain":[1950,2024]},"axis":{"title":"Year","values":[1950,1960,1970,1980,1990,2000,2010,2020],"tickCount":30,"format":"d","labelFontSize":10.5,"titlePadding":12.6,"labelOverlap":false,"labelFlush":false}},
"y":{"field":"rate","type":"quantitative","scale":{"domain":[1,2.2]},"axis":{"title":"Population growth rate","values":[1,1.2,1.4,1.6,1.8,2,2.2],"tickCount":30,"format":"~g","titlePadding":17.7,"labelOverlap":false,"labelFlush":false}}}},
{"data":{"name":"A"},"mark":{"type":"circle","size":62,"color":"#c00000","stroke":"#000","strokeWidth":1,"opacity":1},
"encoding":{"x":{"field":"year","type":"quantitative","scale":{"domain":[1950,2024]}},"y":{"field":"rate","type":"quantitative","scale":{"domain":[1,2.2]}}}},
{"data":{"values":[{"label":"World"}]},"mark":{"type":"text","fontSize":13,"fontWeight":"bold","align":"left","baseline":"alphabetic","color":"#000"},
"encoding":{"text":{"field":"label"},"x":{"datum":1951.6,"type":"quantitative","scale":{"domain":[1950,2024]}},"y":{"datum":2.249,"type":"quantitative","scale":{"domain":[1,2.2]}}}}
]},
{"width":234,"height":222,"title":{"text":"B","dx":-11,"offset":5},
"layer":[
{"data":{"name":"B"},"mark":{"type":"circle","size":66,"color":"#c00000","stroke":"#000","strokeWidth":1,"opacity":1},
"encoding":{"x":{"field":"year","type":"quantitative","scale":{"domain":[1750,2050]},"axis":{"title":"Year","values":[1750,1850,1950,2050],"tickCount":30,"format":"d","titlePadding":11.9,"labelOverlap":false,"labelFlush":false}},
"y":{"field":"rate","type":"quantitative","scale":{"domain":[1,7]},"axis":{"title":"Fertility rate (children per woman)","values":[1,2,3,4,5,6,7],"tickCount":30,"format":"d","labelPadding":3.5,"titlePadding":21,"labelOverlap":false,"labelFlush":false}}}},
{"data":{"values":[{}]},"mark":{"type":"rule","color":"#c00000","strokeWidth":2,"strokeDash":[1.8,1.6]},
"encoding":{"x":{"datum":1753,"type":"quantitative","scale":{"domain":[1750,2050]}},"x2":{"datum":2024},"y":{"datum":2.23,"type":"quantitative","scale":{"domain":[1,7]}}}},
{"data":{"values":[{"label":"Replacement rate"}]},"mark":{"type":"text","fontSize":10.5,"align":"left","baseline":"alphabetic","color":"#222"},
"encoding":{"text":{"field":"label"},"x":{"datum":1760,"type":"quantitative","scale":{"domain":[1750,2050]}},"y":{"datum":2.43,"type":"quantitative","scale":{"domain":[1,7]}}}},
{"data":{"values":[{"label":"World"}]},"mark":{"type":"text","fontSize":13,"fontWeight":"bold","align":"left","baseline":"alphabetic","color":"#000"},
"encoding":{"text":{"field":"label"},"x":{"datum":1760.3,"type":"quantitative","scale":{"domain":[1750,2050]}},"y":{"datum":7.27,"type":"quantitative","scale":{"domain":[1,7]}}}}
]},
{"width":234,"height":222,"title":{"text":"C","dx":-4,"offset":8},
"layer":[
{"data":{"name":"C"},"mark":{"type":"circle","size":66,"color":"#c00000","stroke":"#000","strokeWidth":1,"opacity":1},
"encoding":{"x":{"field":"year","type":"quantitative","scale":{"domain":[1750,2050]},"axis":{"title":["Year",""],"titleLineHeight":21,"values":[1750,1850,1950,2050],"tickCount":30,"format":"d","labelPadding":6,"titlePadding":12.2,"labelOverlap":false,"labelFlush":false}},
"y":{"field":"rate","type":"quantitative","scale":{"domain":[1,7]},"axis":{"title":"Fertility rate (children per woman)","values":[1,2,3,4,5,6,7],"tickCount":30,"format":"d","labelPadding":7.5,"titlePadding":15.5,"labelOverlap":false,"labelFlush":false}}}},
{"data":{"values":[{}]},"mark":{"type":"rule","color":"#c00000","strokeWidth":2,"strokeDash":[1.8,1.6]},
"encoding":{"x":{"datum":1758,"type":"quantitative","scale":{"domain":[1750,2050]}},"x2":{"datum":2046},"y":{"datum":2.18,"type":"quantitative","scale":{"domain":[1,7]}}}},
{"data":{"values":[{"label":"Replacement rate"}]},"mark":{"type":"text","fontSize":10.5,"align":"left","baseline":"alphabetic","color":"#222"},
"encoding":{"text":{"field":"label"},"x":{"datum":1759,"type":"quantitative","scale":{"domain":[1750,2050]}},"y":{"datum":2.37,"type":"quantitative","scale":{"domain":[1,7]}}}},
{"data":{"values":[{"label":"Australia"}]},"mark":{"type":"text","fontSize":13,"fontWeight":"bold","align":"left","baseline":"alphabetic","color":"#000"},
"encoding":{"text":{"field":"label"},"x":{"datum":1755,"type":"quantitative","scale":{"domain":[1750,2050]}},"y":{"datum":7.13,"type":"quantitative","scale":{"domain":[1,7]}}}}
]},
{"width":234,"height":222,"title":{"text":"D","dx":-12,"offset":6},
"layer":[
{"data":{"name":"D"},"mark":{"type":"circle","size":66,"color":"#c00000","stroke":"#000","strokeWidth":1,"opacity":1},
"encoding":{"x":{"field":"year","type":"quantitative","scale":{"domain":[1750,2050]},"axis":{"title":["Year",""],"titleLineHeight":21,"values":[1750,1850,1950,2050],"tickCount":30,"format":"d","labelPadding":5.3,"titlePadding":11.2,"labelOverlap":false,"labelFlush":false}},
"y":{"field":"rate","type":"quantitative","scale":{"domain":[1,7]},"axis":{"title":"Fertility rate (children per woman)","values":[1,2,3,4,5,6,7],"tickCount":30,"format":"d","labelPadding":3.5,"titlePadding":17,"labelOverlap":false,"labelFlush":false}}}},
{"data":{"values":[{}]},"mark":{"type":"rule","color":"#c00000","strokeWidth":2,"strokeDash":[1.8,1.6]},
"encoding":{"x":{"datum":1756,"type":"quantitative","scale":{"domain":[1750,2050]}},"x2":{"datum":2033},"y":{"datum":2.18,"type":"quantitative","scale":{"domain":[1,7]}}}},
{"data":{"values":[{"label":"Replacement rate"}]},"mark":{"type":"text","fontSize":10.5,"align":"left","baseline":"alphabetic","color":"#222"},
"encoding":{"text":{"field":"label"},"x":{"datum":1760,"type":"quantitative","scale":{"domain":[1750,2050]}},"y":{"datum":2.44,"type":"quantitative","scale":{"domain":[1,7]}}}},
{"data":{"values":[{"label":"Taiwan"}]},"mark":{"type":"text","fontSize":13,"fontWeight":"bold","align":"left","baseline":"alphabetic","color":"#000"},
"encoding":{"text":{"field":"label"},"x":{"datum":1757.6,"type":"quantitative","scale":{"domain":[1750,2050]}},"y":{"datum":7.16,"type":"quantitative","scale":{"domain":[1,7]}}}}
]},
{"width":234,"height":222,"title":{"text":"E","dx":-1,"offset":7},
"layer":[
{"data":{"name":"E"},"mark":{"type":"circle","size":66,"color":"#c00000","stroke":"#000","strokeWidth":1,"opacity":1},
"encoding":{"x":{"field":"year","type":"quantitative","scale":{"domain":[1700,2100]},"axis":{"title":"Year","values":[1700,1800,1900,2000,2100],"tickCount":30,"format":"d","labelPadding":5.3,"titlePadding":8.9,"labelOverlap":false,"labelFlush":false}},
"y":{"field":"rate","type":"quantitative","scale":{"domain":[1,7]},"axis":{"title":"Fertility rate (children per woman)","values":[1,2,3,4,5,6,7],"tickCount":30,"format":"d","labelPadding":5.5,"titlePadding":17.5,"labelOverlap":false,"labelFlush":false}}}},
{"data":{"values":[{}]},"mark":{"type":"rule","color":"#c00000","strokeWidth":2,"strokeDash":[1.8,1.6]},
"encoding":{"x":{"datum":1709,"type":"quantitative","scale":{"domain":[1700,2100]}},"x2":{"datum":2078},"y":{"datum":2.13,"type":"quantitative","scale":{"domain":[1,7]}}}},
{"data":{"values":[{"label":"Replacement rate"}]},"mark":{"type":"text","fontSize":10.5,"align":"left","baseline":"alphabetic","color":"#222"},
"encoding":{"text":{"field":"label"},"x":{"datum":1708.6,"type":"quantitative","scale":{"domain":[1700,2100]}},"y":{"datum":2.28,"type":"quantitative","scale":{"domain":[1,7]}}}},
{"data":{"values":[{"label":"India"}]},"mark":{"type":"text","fontSize":13,"fontWeight":"bold","align":"left","baseline":"alphabetic","color":"#000"},
"encoding":{"text":{"field":"label"},"x":{"datum":1710.3,"type":"quantitative","scale":{"domain":[1700,2100]}},"y":{"datum":6.97,"type":"quantitative","scale":{"domain":[1,7]}}}}
]},
{"width":234,"height":222,"title":{"text":"F","dx":-7,"offset":9},
"layer":[
{"data":{"name":"F"},"mark":{"type":"circle","size":66,"color":"#c00000","stroke":"#000","strokeWidth":1,"opacity":1},
"encoding":{"x":{"field":"year","type":"quantitative","scale":{"domain":[1750,2050]},"axis":{"title":"Year","values":[1750,1800,1850,1900,1950,2000,2050],"tickCount":30,"format":"d","titlePadding":7.9,"labelOverlap":false,"labelFlush":false}},
"y":{"field":"rate","type":"quantitative","scale":{"domain":[1,7]},"axis":{"title":"Fertility rate (children per woman)","values":[1,2,3,4,5,6,7],"tickCount":30,"format":"d","labelPadding":4.5,"titlePadding":24,"labelOverlap":false,"labelFlush":false}}}},
{"data":{"values":[{}]},"mark":{"type":"rule","color":"#c00000","strokeWidth":2,"strokeDash":[1.8,1.6]},
"encoding":{"x":{"datum":1751,"type":"quantitative","scale":{"domain":[1750,2050]}},"x2":{"datum":2034},"y":{"datum":2.19,"type":"quantitative","scale":{"domain":[1,7]}}}},
{"data":{"values":[{"label":"Replacement rate"}]},"mark":{"type":"text","fontSize":10.5,"align":"left","baseline":"alphabetic","color":"#222"},
"encoding":{"text":{"field":"label"},"x":{"datum":1759.3,"type":"quantitative","scale":{"domain":[1750,2050]}},"y":{"datum":2.35,"type":"quantitative","scale":{"domain":[1,7]}}}},
{"data":{"values":[{"label":"Sierra Leone"}]},"mark":{"type":"text","fontSize":13,"fontWeight":"bold","align":"left","baseline":"alphabetic","color":"#000"},
"encoding":{"text":{"field":"label"},"x":{"datum":1756.4,"type":"quantitative","scale":{"domain":[1750,2050]}},"y":{"datum":6.92,"type":"quantitative","scale":{"domain":[1,7]}}}}
]}
]
}
